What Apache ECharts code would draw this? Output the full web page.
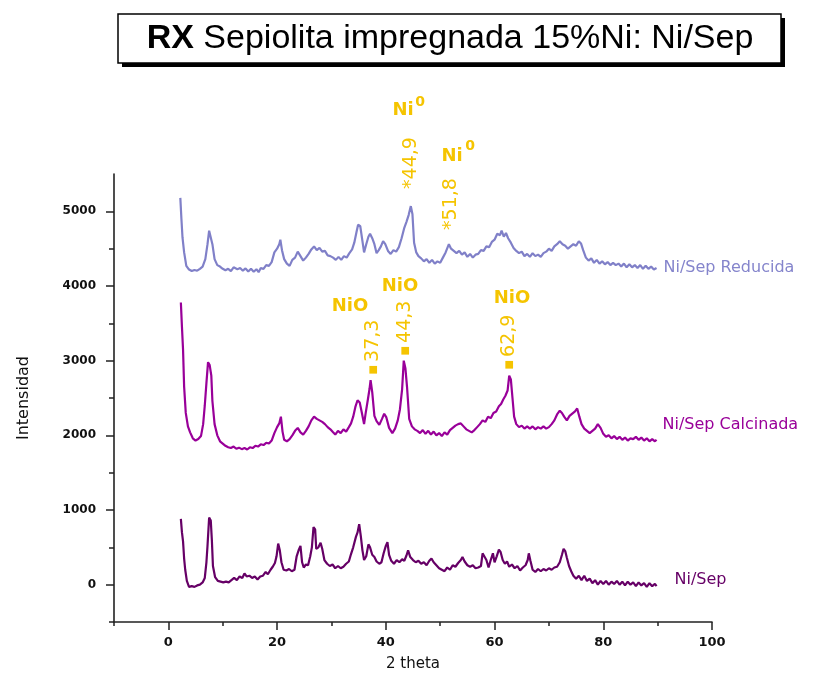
<!DOCTYPE html>
<html>
<head>
<meta charset="utf-8">
<script src="https://cdn.jsdelivr.net/npm/echarts/dist/echarts.min.js"></script>
<style>
  html, body { margin: 0; padding: 0; background: #fff; }
  #chart { width: 833px; height: 679px; }
</style>
</head>
<body>
<div id="chart"></div>
<script>
// ---- Data (2 theta, intensity) ----
const reducida = [
  [2.2,5180],[2.4,4900],[2.6,4650],[2.9,4450],[3.3,4270],[3.8,4220],[4.3,4200],[4.8,4215],[5.3,4205],[5.8,4230],
  [6.3,4260],[6.8,4360],[7.2,4560],[7.5,4740],[7.8,4720],[8.1,4560],[8.5,4360],[9.0,4280],[9.5,4260],[10.0,4230],
  [10.5,4210],[11.0,4230],[11.5,4200],[12.0,4250],[12.3,4265],[12.7,4225],[13.2,4240],[13.7,4205],[14.2,4235],[14.7,4195],
  [15.2,4230],[15.7,4190],[16.2,4225],[16.6,4185],[17.0,4240],[17.5,4230],[18.0,4280],[18.5,4270],[19.0,4320],[19.5,4450],
  [20.0,4500],[20.4,4560],[20.6,4620],[20.9,4480],[21.3,4360],[21.8,4300],[22.3,4270],[22.8,4350],[23.3,4380],[23.8,4460],
  [24.3,4400],[24.8,4340],[25.3,4380],[25.8,4430],[26.3,4490],[26.8,4530],[27.3,4480],[27.8,4510],[28.3,4460],[28.8,4470],
  [29.3,4410],[29.8,4400],[30.3,4380],[30.8,4350],[31.3,4390],[31.8,4350],[32.3,4400],[32.8,4380],[33.3,4440],[33.8,4490],
  [34.2,4580],[34.6,4720],[34.9,4820],[35.3,4800],[35.7,4600],[36.0,4450],[36.4,4560],[36.8,4660],[37.1,4700],[37.5,4640],
  [37.9,4560],[38.3,4440],[38.7,4480],[39.1,4530],[39.5,4600],[39.9,4560],[40.4,4470],[40.9,4430],[41.4,4480],[41.9,4460],
  [42.4,4520],[42.9,4640],[43.4,4780],[43.8,4860],[44.2,4950],[44.6,5070],[44.9,4960],[45.2,4580],[45.6,4450],[46.0,4400],
  [46.5,4370],[47.0,4330],[47.5,4360],[48.0,4310],[48.5,4350],[49.0,4300],[49.5,4330],[50.0,4310],[50.5,4380],[51.0,4450],
  [51.6,4560],[52.0,4500],[52.5,4470],[53.0,4440],[53.5,4470],[54.0,4420],[54.5,4450],[55.0,4390],[55.5,4430],[56.0,4380],
  [56.5,4420],[57.0,4430],[57.5,4480],[58.0,4470],[58.5,4530],[59.0,4520],[59.5,4590],[60.0,4620],[60.5,4700],[61.0,4680],
  [61.3,4740],[61.7,4660],[62.1,4710],[62.5,4640],[63.0,4580],[63.5,4510],[64.0,4470],[64.5,4440],[65.0,4460],[65.5,4400],
  [66.0,4430],[66.5,4390],[67.0,4440],[67.5,4400],[68.0,4420],[68.5,4390],[69.0,4440],[69.5,4460],[70.0,4500],[70.5,4470],
  [71.0,4530],[71.5,4560],[72.0,4600],[72.5,4560],[73.0,4540],[73.5,4500],[74.0,4530],[74.5,4560],[75.0,4540],[75.5,4600],
  [75.9,4570],[76.3,4480],[76.8,4380],[77.3,4340],[77.8,4370],[78.3,4310],[78.8,4350],[79.3,4300],[79.8,4330],[80.3,4290],
  [80.8,4320],[81.3,4280],[81.8,4310],[82.3,4280],[82.8,4300],[83.3,4260],[83.8,4300],[84.3,4250],[84.8,4290],[85.3,4250],
  [85.8,4280],[86.3,4240],[86.8,4280],[87.3,4230],[87.8,4270],[88.3,4230],[88.8,4260],[89.3,4220],[89.8,4240]
];
const calcinada = [
  [2.3,3780],[2.5,3450],[2.7,3150],[2.9,2650],[3.2,2300],[3.6,2120],[4.0,2040],[4.5,1960],[5.0,1930],[5.5,1950],
  [6.0,1990],[6.4,2150],[6.7,2400],[7.0,2700],[7.3,2980],[7.6,2940],[7.9,2800],[8.1,2460],[8.5,2150],[9.0,2000],
  [9.5,1920],[10.0,1890],[10.5,1860],[11.0,1840],[11.5,1830],[12.0,1850],[12.5,1820],[13.0,1835],[13.5,1815],[14.0,1830],
  [14.5,1810],[15.0,1840],[15.5,1830],[16.0,1860],[16.5,1850],[17.0,1880],[17.5,1870],[18.0,1900],[18.5,1890],[19.0,1930],
  [19.5,2030],[20.0,2110],[20.4,2160],[20.7,2250],[21.0,2050],[21.3,1940],[21.8,1920],[22.3,1950],[22.8,2000],[23.3,2060],
  [23.8,2100],[24.3,2040],[24.8,2010],[25.3,2060],[25.8,2120],[26.3,2200],[26.8,2250],[27.3,2220],[27.8,2200],[28.3,2180],
  [28.8,2150],[29.3,2110],[29.8,2080],[30.3,2040],[30.7,2010],[31.2,2060],[31.7,2030],[32.2,2080],[32.7,2050],[33.2,2110],
  [33.6,2160],[34.0,2250],[34.4,2380],[34.8,2470],[35.2,2440],[35.6,2300],[36.0,2150],[36.3,2300],[36.7,2480],[37.0,2620],
  [37.2,2740],[37.5,2580],[37.9,2260],[38.3,2190],[38.8,2140],[39.3,2220],[39.7,2290],[40.1,2240],[40.6,2100],[41.2,2030],
  [41.7,2090],[42.2,2200],[42.6,2350],[43.0,2620],[43.3,3000],[43.6,2900],[43.9,2650],[44.3,2220],[44.8,2120],[45.3,2080],
  [45.8,2060],[46.3,2030],[46.8,2070],[47.3,2020],[47.8,2060],[48.3,2010],[48.8,2050],[49.3,2000],[49.8,2030],[50.3,1990],
  [50.8,2040],[51.3,2010],[51.8,2070],[52.3,2100],[52.8,2130],[53.3,2150],[53.8,2160],[54.3,2120],[54.8,2080],[55.3,2060],
  [55.8,2040],[56.3,2070],[56.8,2110],[57.3,2150],[57.8,2200],[58.3,2180],[58.8,2250],[59.3,2230],[59.8,2300],[60.3,2320],
  [60.8,2390],[61.2,2420],[61.6,2480],[62.0,2530],[62.4,2600],[62.7,2800],[63.0,2750],[63.3,2500],[63.6,2250],[64.0,2150],
  [64.5,2110],[65.0,2130],[65.5,2090],[66.0,2120],[66.5,2090],[67.0,2120],[67.5,2080],[68.0,2110],[68.5,2090],[69.0,2120],
  [69.5,2090],[70.0,2110],[70.5,2150],[71.0,2200],[71.5,2280],[72.0,2330],[72.4,2300],[72.8,2250],[73.3,2200],[73.8,2260],
  [74.3,2290],[74.8,2320],[75.2,2360],[75.6,2250],[76.0,2150],[76.5,2090],[77.0,2060],[77.5,2030],[78.0,2060],[78.5,2090],
  [79.0,2150],[79.5,2100],[80.0,2020],[80.5,1980],[81.0,2000],[81.5,1960],[82.0,1990],[82.5,1950],[83.0,1980],[83.5,1940],
  [84.0,1970],[84.5,1930],[85.0,1960],[85.5,1950],[86.0,1980],[86.5,1940],[87.0,1970],[87.5,1930],[88.0,1960],[88.5,1920],
  [89.0,1950],[89.5,1920],[89.8,1940]
];
const niSep = [
  [2.3,880],[2.5,700],[2.7,580],[2.9,350],[3.1,200],[3.4,50],[3.8,-30],[4.3,-20],[4.8,-30],[5.3,-10],
  [5.8,0],[6.3,30],[6.7,90],[7.0,300],[7.2,520],[7.5,900],[7.8,860],[8.0,600],[8.2,250],[8.6,100],
  [9.1,50],[9.6,40],[10.1,30],[10.6,40],[11.1,30],[11.6,60],[12.1,90],[12.6,60],[13.1,110],[13.6,90],
  [14.0,150],[14.4,110],[14.9,120],[15.4,90],[15.9,110],[16.4,70],[16.9,110],[17.4,120],[17.9,170],[18.3,140],
  [18.8,200],[19.2,240],[19.6,290],[19.9,380],[20.2,550],[20.5,460],[20.8,300],[21.2,200],[21.7,190],[22.2,210],
  [22.7,180],[23.2,200],[23.6,380],[24.0,470],[24.3,520],[24.6,300],[24.9,230],[25.3,270],[25.7,260],[26.1,380],
  [26.4,500],[26.7,770],[27.0,740],[27.2,480],[27.6,500],[28.0,560],[28.3,480],[28.7,330],[29.2,280],[29.7,250],
  [30.2,270],[30.7,220],[31.2,250],[31.7,220],[32.2,240],[32.7,280],[33.2,310],[33.6,410],[34.0,500],[34.5,640],
  [34.8,700],[35.1,810],[35.4,650],[35.7,460],[36.0,330],[36.4,380],[36.8,540],[37.1,500],[37.5,400],[37.9,370],
  [38.3,310],[38.8,280],[39.2,300],[39.6,420],[40.0,520],[40.3,570],[40.6,400],[41.0,320],[41.5,280],[42.0,330],
  [42.5,300],[43.0,340],[43.4,320],[43.8,390],[44.1,460],[44.5,370],[45.0,330],[45.5,300],[46.0,320],[46.5,280],
  [47.0,300],[47.5,260],[48.0,320],[48.4,350],[48.8,300],[49.3,260],[49.8,220],[50.3,200],[50.8,180],[51.3,230],
  [51.8,200],[52.3,260],[52.8,240],[53.3,290],[53.8,330],[54.1,370],[54.5,310],[55.0,260],[55.5,240],[56.0,260],
  [56.5,220],[57.0,230],[57.5,250],[57.8,420],[58.1,440],[58.5,330],[58.9,230],[59.3,330],[59.7,420],[60.0,300],
  [60.4,380],[60.8,470],[61.1,440],[61.5,330],[61.9,280],[62.3,310],[62.7,240],[63.2,270],[63.7,220],[64.2,250],
  [64.7,190],[65.2,230],[65.7,260],[66.1,330],[66.3,420],[66.6,320],[67.0,200],[67.5,170],[68.0,210],[68.5,180],
  [69.0,210],[69.5,190],[70.0,220],[70.5,200],[71.0,230],[71.5,240],[72.0,300],[72.4,400],[72.7,480],[73.0,450],
  [73.3,360],[73.7,250],[74.1,180],[74.5,120],[75.0,80],[75.5,120],[76.0,60],[76.5,120],[77.0,50],[77.5,80],
  [78.0,20],[78.5,60],[79.0,0],[79.5,50],[80.0,10],[80.5,50],[81.0,0],[81.5,40],[82.0,10],[82.5,50],
  [83.0,0],[83.5,40],[84.0,-10],[84.5,40],[85.0,0],[85.5,30],[86.0,-20],[86.5,30],[87.0,-10],[87.5,20],
  [88.0,-30],[88.5,20],[89.0,-20],[89.5,10],[89.8,-20]
];
const seriesNames = ['Ni/Sep Reducida', 'Ni/Sep Calcinada', 'Ni/Sep'];
const xMajorTicks = [0, 20, 40, 60, 80, 100];
const xMinorTicks = [-10, 10, 30, 50, 70, 90];
const yMajorTicks = [0, 1000, 2000, 3000, 4000, 5000];
const yMinorTicks = [-500, 500, 1500, 2500, 3500, 4500];
const titleBold = 'RX';
const titleRest = ' Sepiolita impregnada 15%Ni: Ni/Sep';
const peakLabels = ['*44,9', '*51,8', '37,3', '44,3', '62,9'];

// ---- Chart ----
const chart = echarts.init(document.getElementById('chart'), null, { renderer: 'canvas' });
const YEL = '#f5c400';
const labelFont = '"DejaVu Sans", sans-serif';

function rotText(x, y, txt, square) {
  return {
    type: 'text', x: x, y: y, rotation: Math.PI / 2, silent: true,
    style: {
      text: square ? '{s|\u25A0}{n|' + txt + '}' : '{n|' + txt + '}',
      align: 'center', verticalAlign: 'middle', fill: YEL,
      rich: {
        s: { fontSize: 10, fontFamily: labelFont, fill: YEL, padding: [0, 3, 0, 0] },
        n: { fontSize: 19, fontFamily: labelFont, fill: YEL }
      }
    }
  };
}
function boldText(x, y, txt, size) {
  return {
    type: 'text', x: x, y: y, silent: true,
    style: { text: txt, align: 'center', verticalAlign: 'middle', fill: YEL,
      font: 'bold ' + size + 'px "DejaVu Sans", sans-serif' }
  };
}
const plainNum = function (v) { return String(v); };

const option = {
  animation: false,
  backgroundColor: '#ffffff',
  grid: { left: 114, right: 121, top: 174, bottom: 57 },
  xAxis: [{
    type: 'value', min: -10, max: 100,
    name: '2 theta', nameLocation: 'middle', nameGap: 35,
    nameTextStyle: { color: '#111', fontSize: 15, fontFamily: labelFont },
    axisLine: { show: true, onZero: false, lineStyle: { color: '#222', width: 1.6 } },
    axisTick: { show: true, customValues: xMajorTicks, length: 8, inside: false, lineStyle: { color: '#222', width: 1.5 } },
    axisLabel: { customValues: xMajorTicks, formatter: plainNum, margin: 14, color: '#111', fontSize: 13, fontWeight: 'bold', fontFamily: labelFont },
    splitLine: { show: false }
  }, {
    type: 'value', min: -10, max: 100, position: 'bottom',
    axisLine: { show: false, onZero: false },
    axisTick: { show: true, customValues: xMinorTicks, length: 4, lineStyle: { color: '#222', width: 1.5 } },
    axisLabel: { show: false },
    splitLine: { show: false }
  }],
  yAxis: [{
    type: 'value', min: -500, max: 5500,
    name: 'Intensidad', nameLocation: 'middle', nameGap: 82, nameRotate: 90,
    nameTextStyle: { color: '#111', fontSize: 16, fontFamily: labelFont },
    axisLine: { show: true, onZero: false, lineStyle: { color: '#222', width: 1.6 } },
    axisTick: { show: true, customValues: yMajorTicks, length: 8, lineStyle: { color: '#222', width: 1.5 } },
    axisLabel: { customValues: yMajorTicks, formatter: plainNum, margin: 18, color: '#111', fontSize: 12, fontWeight: 'bold', fontFamily: labelFont },
    splitLine: { show: false }
  }, {
    type: 'value', min: -500, max: 5500, position: 'left',
    axisLine: { show: false, onZero: false },
    axisTick: { show: true, customValues: yMinorTicks, length: 5, lineStyle: { color: '#222', width: 1.5 } },
    axisLabel: { show: false },
    splitLine: { show: false }
  }],
  series: [
    {
      name: seriesNames[0], type: 'line', data: reducida, showSymbol: false,
      xAxisIndex: 0, yAxisIndex: 0,
      lineStyle: { color: '#8080c8', width: 2.2 }, itemStyle: { color: '#8080c8' },
      endLabel: { show: true, formatter: '{a}', color: '#8585cc', fontSize: 16, fontFamily: labelFont, distance: 0, offset: [7, 0] }
    },
    {
      name: seriesNames[1], type: 'line', data: calcinada, showSymbol: false,
      xAxisIndex: 0, yAxisIndex: 0,
      lineStyle: { color: '#990099', width: 2.2 }, itemStyle: { color: '#990099' },
      endLabel: { show: true, formatter: '{a}', color: '#990099', fontSize: 16, fontFamily: labelFont, distance: 0, offset: [6, -15] }
    },
    {
      name: seriesNames[2], type: 'line', data: niSep, showSymbol: false,
      xAxisIndex: 0, yAxisIndex: 0,
      lineStyle: { color: '#660066', width: 2.2 }, itemStyle: { color: '#660066' },
      endLabel: { show: true, formatter: '{a}', color: '#660066', fontSize: 16, fontFamily: labelFont, distance: 0, offset: [18, -6] }
    }
  ],
  graphic: [
    { type: 'rect', silent: true, shape: { x: 122, y: 18, width: 663, height: 49 }, style: { fill: '#000' } },
    { type: 'rect', silent: true, shape: { x: 118, y: 14, width: 663, height: 49 }, style: { fill: '#fff', stroke: '#000', lineWidth: 1.5 } },
    {
      type: 'text', silent: true, x: 450, y: 39,
      style: {
        text: '{b|' + titleBold + '}{n|' + titleRest + '}',
        align: 'center', verticalAlign: 'middle',
        rich: {
          b: { fontSize: 34, fontWeight: 'bold', fontFamily: '"Liberation Sans", Arial, sans-serif', fill: '#000' },
          n: { fontSize: 34, fontFamily: '"Liberation Sans", Arial, sans-serif', fill: '#000' }
        }
      }
    },
    boldText(403, 110, 'Ni', 18),
    boldText(420, 102, '0', 14),
    boldText(452, 156, 'Ni', 18),
    boldText(470, 146, '0', 14),
    boldText(350, 306, 'NiO', 18),
    boldText(400, 286, 'NiO', 18),
    boldText(512, 298, 'NiO', 18),
    rotText(411, 163, peakLabels[0], false),
    rotText(451, 204, peakLabels[1], false),
    rotText(373, 347, peakLabels[2], true),
    rotText(405, 328, peakLabels[3], true),
    rotText(509, 342, peakLabels[4], true)
  ]
};
chart.setOption(option);
</script>
</body>
</html>
